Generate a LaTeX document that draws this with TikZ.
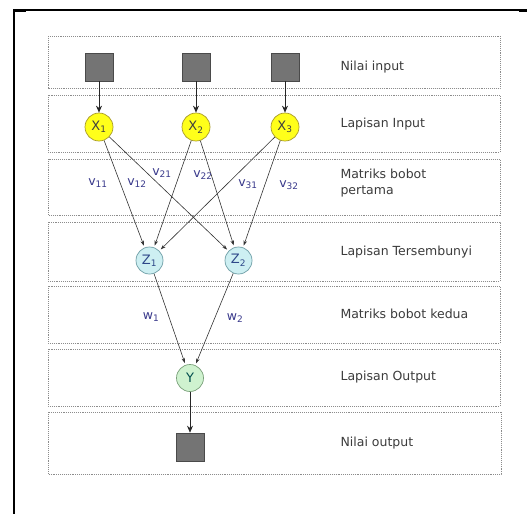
\documentclass[tikz,border=0pt]{standalone}
\usepackage{fontspec}
\setmainfont{DejaVu Sans}
\usetikzlibrary{arrows.meta}
\definecolor{bandline}{HTML}{8C8C8C}
\definecolor{labeltext}{HTML}{3C3C3C}
\definecolor{weighttext}{HTML}{3A3A8C}
\definecolor{sqfill}{HTML}{747474}
\definecolor{sqline}{HTML}{4A4A4A}
\definecolor{xfill}{HTML}{FFFF1A}
\definecolor{xline}{HTML}{A89A2A}
\definecolor{zfill}{HTML}{CDEFF2}
\definecolor{zline}{HTML}{6E9EA6}
\definecolor{yfill}{HTML}{CFF2CF}
\definecolor{yline}{HTML}{7AA07A}
\tikzset{
  band/.style={draw=bandline, densely dotted, line width=0.9pt},
  layerlabel/.style={anchor=west, text=labeltext, font=\fontsize{12.5}{15.5}\selectfont, align=left},
  valuebox/.style={draw=sqline, fill=sqfill, minimum size=28pt, inner sep=0pt, line width=0.6pt},
  xnode/.style={circle, draw=xline, fill=xfill, minimum size=28pt, inner sep=0pt, line width=0.7pt, font=\fontsize{13}{13}\selectfont, text=black!75},
  znode/.style={circle, draw=zline, fill=zfill, minimum size=27pt, inner sep=0pt, line width=0.7pt, font=\fontsize{13}{13}\selectfont, text=weighttext!80!teal},
  ynode/.style={circle, draw=yline, fill=yfill, minimum size=27pt, inner sep=0pt, line width=0.7pt, font=\fontsize{13}{13}\selectfont, text=teal!60!black},
  feed/.style={draw=black!85, line width=0.7pt, -{Stealth[length=7pt,width=6pt]}},
  link/.style={draw=black!80, line width=0.6pt, -{Stealth[length=5pt,width=3.5pt]}, shorten >=2pt},
  weight/.style={text=weighttext, font=\fontsize{12.5}{12.5}\selectfont, inner sep=1pt}
}
\newcommand{\wsub}[2]{#1\textsubscript{\fontsize{9}{9}\selectfont #2}}
\begin{document}
\begin{tikzpicture}[x=1pt, y=-1pt]
\useasboundingbox (0,0) rectangle (527,514);
\fill[white] (0,0) rectangle (527,514);

% outer frame: left and top edges
\draw[line width=2pt] (14,10) -- (14,514);
\draw[line width=1.3pt] (13,10) -- (527,10);
\draw[line width=2.2pt] (13,10.5) -- (26,10.5);
\draw[line width=2.2pt] (519,10.5) -- (527,10.5);

% layer bands
\draw[band] (48,36) rectangle (500,88);
\draw[band] (48,95) rectangle (500,152);
\draw[band] (48,159) rectangle (500,215);
\draw[band] (48,222) rectangle (500,281);
\draw[band] (48,286) rectangle (500,343);
\draw[band] (48,349) rectangle (500,406);
\draw[band] (48,412) rectangle (501,474);

% layer captions
\node[layerlabel] (t1) at (337,67) {Nilai input};
\node[layerlabel] (t2) at (337,124) {Lapisan Input};
\node[layerlabel] (t3) at (337,183) {Matriks bobot\\pertama};
\node[layerlabel] (t4) at (337,252) {Lapisan Tersembunyi};
\node[layerlabel] (t5) at (337,314) {Matriks bobot kedua};
\node[layerlabel] (t6) at (337,377) {Lapisan Output};
\node[layerlabel] (t7) at (337,443) {Nilai output};

% input values
\node[valuebox] (i1) at (99,67) {};
\node[valuebox] (i2) at (196,67) {};
\node[valuebox] (i3) at (285,67) {};

% input layer
\node[xnode] (x1) at (99,127) {\wsub{X}{1}};
\node[xnode] (x2) at (196,127) {\wsub{X}{2}};
\node[xnode] (x3) at (285,127) {\wsub{X}{3}};

% hidden layer
\node[znode] (z1) at (149.5,260.5) {\wsub{Z}{1}};
\node[znode] (z2) at (238.5,260.5) {\wsub{Z}{2}};

% output layer
\node[ynode] (y) at (190,378) {Y};
\node[valuebox] (o) at (190,447) {};

% connections
\draw[feed] (i1) -- (x1);
\draw[feed] (i2) -- (x2);
\draw[feed] (i3) -- (x3);
\draw[link] (x1) -- (z1);
\draw[link] (x1) -- (z2);
\draw[link] (x2) -- (z1);
\draw[link] (x2) -- (z2);
\draw[link] (x3) -- (z1);
\draw[link] (x3) -- (z2);
\draw[link] (z1) -- (y);
\draw[link] (z2) -- (y);
\draw[feed] (y) -- (o);

% weights
\node[weight] (v11) at (98,183) {\wsub{v}{11}};
\node[weight] (v12) at (137,183) {\wsub{v}{12}};
\node[weight] (v21) at (162,173) {\wsub{v}{21}};
\node[weight] (v22) at (203,175) {\wsub{v}{22}};
\node[weight] (v31) at (248,184) {\wsub{v}{31}};
\node[weight] (v32) at (289,185) {\wsub{v}{32}};
\node[weight] (w1) at (151,317) {\wsub{w}{1}};
\node[weight] (w2) at (235,318) {\wsub{w}{2}};
\end{tikzpicture}
\end{document}
